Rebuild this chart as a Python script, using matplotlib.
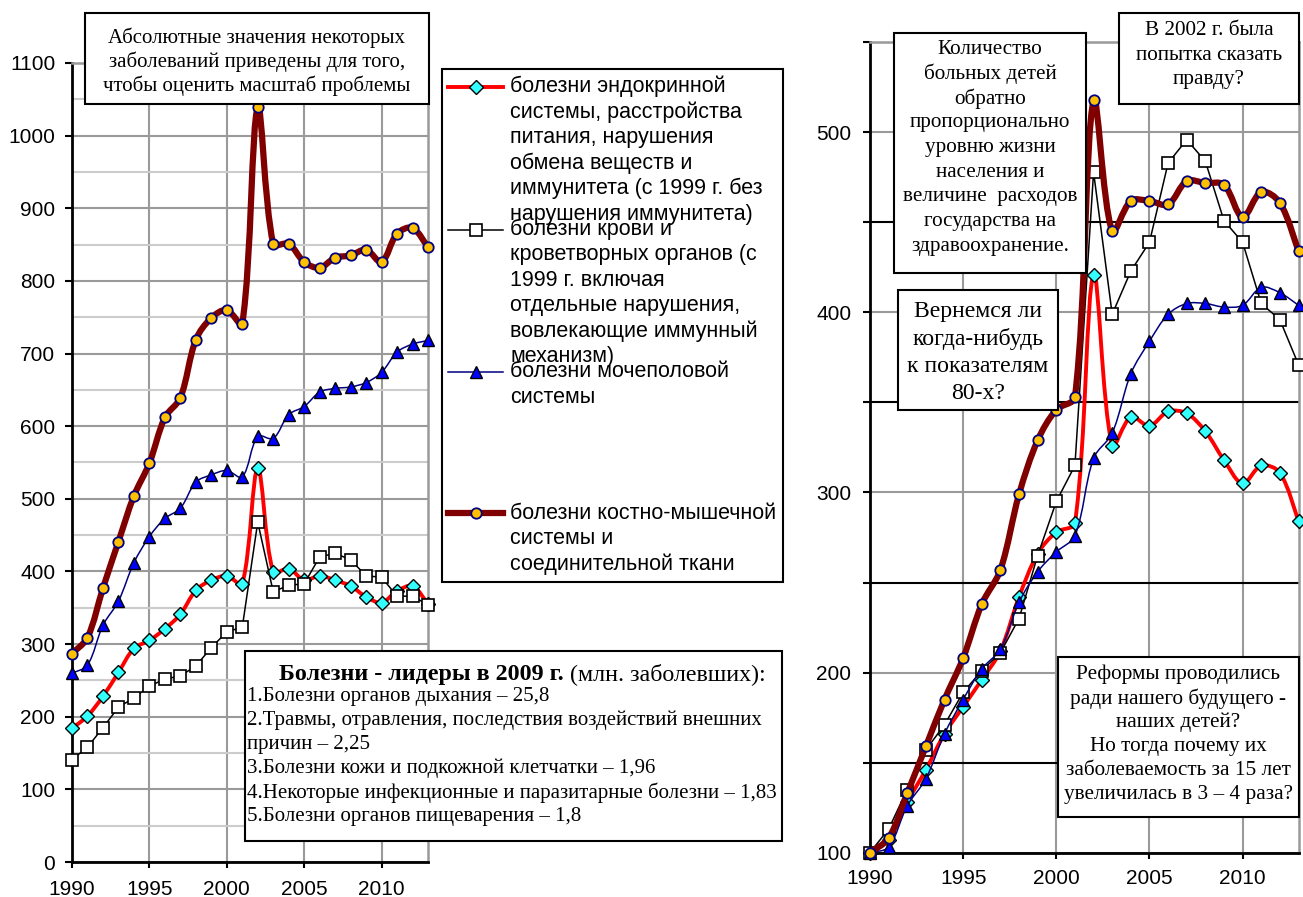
import numpy as np
import matplotlib
matplotlib.use('Agg')
import matplotlib.pyplot as plt
from matplotlib.lines import Line2D
from matplotlib.patches import Rectangle, PathPatch
from matplotlib.path import Path
from matplotlib.text import Annotation
from matplotlib.legend_handler import HandlerLine2D
from matplotlib.ticker import MultipleLocator, FixedLocator

plt.rcParams['font.family'] = ['Liberation Sans', 'DejaVu Sans']
SERIF = ['Liberation Serif', 'DejaVu Serif']

years = list(range(1990, 2014))

# left chart - absolute values
endo_abs = [184, 201, 228, 261, 294, 305, 321, 341, 374, 388, 394, 383,
            542, 399, 404, 388, 394, 388, 380, 365, 357, 373, 380, 355]
blood_abs = [141, 158, 185, 213, 226, 242, 252, 256, 270, 295, 317, 323,
             468, 372, 381, 383, 420, 425, 416, 394, 392, 366, 366, 354]
uro_abs = [260, 271, 326, 359, 412, 448, 473, 487, 523, 533, 539, 530,
           586, 583, 616, 627, 647, 652, 654, 660, 674, 702, 713, 718]
bone_abs = [287, 309, 377, 441, 504, 549, 612, 639, 719, 749, 760, 741,
            1039, 851, 851, 826, 818, 832, 835, 843, 826, 865, 873, 846]

# right chart - children, 1990 = 100
endo_idx = [100, 107, 128, 146, 166, 181, 196, 212, 242, 266, 278, 283,
            421, 326, 342, 337, 345, 344, 334, 318, 305, 315, 311, 284]
blood_idx = [100, 113, 135, 157, 171, 189, 201, 211, 230, 265, 295, 315,
             478, 399, 423, 439, 483, 496, 484, 451, 439, 405, 396, 371]
uro_idx = [100, 103, 126, 141, 166, 185, 202, 213, 239, 256, 267, 276,
           319, 333, 366, 384, 399, 405, 405, 403, 404, 414, 411, 404]
bone_idx = [100, 108, 133, 159, 185, 208, 238, 257, 299, 329, 346, 353,
            518, 445, 462, 462, 460, 473, 472, 471, 453, 467, 461, 434]

labels = [
    "болезни эндокринной\nсистемы, расстройства\nпитания, нарушения\n"
    "обмена веществ и\nиммунитета (с 1999 г. без\nнарушения иммунитета)",
    "болезни крови и\nкроветворных органов (с\n1999 г. включая\n"
    "отдельные нарушения,\nвовлекающие иммунный\nмеханизм)",
    "болезни мочеполовой\nсистемы\n\n\n\n",
    "болезни костно-мышечной\nсистемы и\nсоединительной ткани",
]

styles = [
    dict(color='#ff0000', lw=2.8, marker='D', mfc='#33ffff', mec='black', ms=7.5, mew=1),
    dict(color='black', lw=1.1, marker='s', mfc='white', mec='black', ms=8, mew=1.2),
    dict(color='#000080', lw=1.1, marker='^', mfc='#0000ff', mec='black', ms=9, mew=1),
    dict(color='#800000', lw=4.5, marker='o', mfc='#ffc000', mec='#000080', ms=7.5, mew=1.3),
]
smoothed = [True, False, True, True]  # excel "smoothed line" option

W, H = 1303, 897
LEG_SIZE = 15.5
LEG_STEP = 25 * 0.72  # line step in points


class TopHandler(HandlerLine2D):
    # put the marker next to the first line of a multi-line label
    def create_artists(self, legend, orig_handle, xdescent, ydescent,
                       width, height, fontsize, trans):
        arts = super().create_artists(legend, orig_handle, xdescent, ydescent,
                                      width, height, fontsize, trans)
        n = orig_handle.get_label().count('\n')
        shift = n * LEG_STEP / 2 + 1
        for a in arts:
            a.set_ydata(np.asarray(a.get_ydata()) + shift)
        return arts


def spline_path(ax, x, y):
    # bezier segments through the data points, control arms weighted by
    # segment length on screen (close to what excel does)
    pts = np.column_stack([x, y]).astype(float)
    scr = ax.transData.transform(pts)
    d = np.hypot(*np.diff(scr, axis=0).T)
    n = len(pts)
    verts = [tuple(pts[0])]
    codes = [Path.MOVETO]
    for i in range(n - 1):
        a = max(i - 1, 0)
        b = min(i + 2, n - 1)
        da = d[i - 1] if i > 0 else d[i]
        db = d[i + 1] if i + 2 < n else d[i]
        c1 = pts[i] + (pts[i + 1] - pts[a]) * d[i] / (3 * (da + d[i]))
        c2 = pts[i + 1] - (pts[b] - pts[i]) * d[i] / (3 * (d[i] + db))
        verts += [tuple(c1), tuple(c2), tuple(pts[i + 1])]
        codes += [Path.CURVE4] * 3
    return Path(verts, codes)


def draw_series(ax, vals, st, smooth, z):
    if smooth:
        ax.add_patch(PathPatch(spline_path(ax, years, vals), fill=False,
                               edgecolor=st['color'], lw=st['lw'],
                               joinstyle='round', capstyle='round',
                               clip_on=False, zorder=z))
    else:
        ax.plot(years, vals, color=st['color'], lw=st['lw'],
                solid_joinstyle='round', clip_on=False, zorder=z)
    ax.plot(years, vals, ls='none', marker=st['marker'], mfc=st['mfc'],
            mec=st['mec'], ms=st['ms'], mew=st['mew'], clip_on=False, zorder=z + 0.5)


fig = plt.figure(figsize=(13.03, 8.97), dpi=100)

ax1 = fig.add_axes([72 / W, 1 - 862 / H, 356 / W, 799 / H])
ax2 = fig.add_axes([870 / W, 1 - 852.5 / H, 428.5 / W, 810 / H])

# left axis
ax1.set_xlim(1990, 2013)
ax1.set_ylim(0, 1100)
ax1.xaxis.set_major_locator(MultipleLocator(5))
ax1.yaxis.set_major_locator(MultipleLocator(100))
ax1.yaxis.set_minor_locator(MultipleLocator(50))
ax1.set_axisbelow(True)
ax1.grid(True, which='major', color='#9a9a9a', lw=1.5)
ax1.grid(True, which='minor', axis='y', color='#cccccc', lw=1.5)
ax1.tick_params(which='major', labelsize=15, direction='out', width=1.5, color='black')
ax1.tick_params(axis='y', which='major', length=5, pad=7)
ax1.tick_params(axis='x', which='major', length=4, pad=9)
ax1.tick_params(axis='y', which='minor', length=0)

# right axis
ax2.set_xlim(1990, 2013)
ax2.set_ylim(100, 550)
ax2.xaxis.set_major_locator(MultipleLocator(5))
ax2.yaxis.set_major_locator(FixedLocator([100, 200, 300, 400, 500]))
ax2.yaxis.set_minor_locator(FixedLocator([150, 250, 350, 450, 550]))
ax2.set_axisbelow(True)
ax2.grid(True, which='major', color='#9a9a9a', lw=1.5)
ax2.grid(True, which='minor', axis='y', color='black', lw=1.5)
ax2.tick_params(which='both', labelsize=15, direction='out', width=1.5, color='black')
ax2.tick_params(axis='y', which='both', length=5, pad=8.5)
ax2.tick_params(axis='x', which='major', length=4, pad=8)

for ax in (ax1, ax2):
    for s in ('left', 'bottom'):
        ax.spines[s].set_color('black')
        ax.spines[s].set_linewidth(2)
    for s in ('top', 'right'):
        ax.spines[s].set_color('#9a9a9a')
        ax.spines[s].set_linewidth(1.8)

left_data = [endo_abs, blood_abs, uro_abs, bone_abs]
right_data = [endo_idx, blood_idx, uro_idx, bone_idx]
for i in range(4):
    draw_series(ax1, left_data[i], styles[i], smoothed[i], 3 + i)
    draw_series(ax2, right_data[i], styles[i], smoothed[i], 3 + i)

handles = [Line2D([], [], label=lab, **st) for st, lab in zip(styles, labels)]

leg = ax1.legend(handles, labels, loc='upper left',
                 bbox_to_anchor=(442 / W, 1 - 69 / H), bbox_transform=fig.transFigure,
                 prop={'family': ['Liberation Sans'], 'size': LEG_SIZE},
                 fancybox=False, edgecolor='black', framealpha=1,
                 borderpad=0.3, borderaxespad=0, handlelength=2.55,
                 handletextpad=0.31, labelspacing=-0.27,
                 handler_map={Line2D: TopHandler()})
leg.get_frame().set_linewidth(1.5)
leg.set_zorder(10)
for t in leg.get_texts():
    t.set_linespacing(1.267)


def box(x0, y0, x1, y1):
    fig.add_artist(Rectangle((x0 / W, 1 - y1 / H), (x1 - x0) / W, (y1 - y0) / H,
                             transform=fig.transFigure, facecolor='white',
                             edgecolor='black', lw=1.5, zorder=5))


def put_lines(x, y_first, step, lines, size, ha='center'):
    for i, line in enumerate(lines):
        fig.text(x / W, 1 - (y_first + i * step) / H, line, ha=ha,
                 va='center_baseline', family=SERIF, size=size, zorder=6)


def note(x0, y0, x1, y1, lines, size, y_first, step):
    box(x0, y0, x1, y1)
    put_lines((x0 + x1) / 2, y_first, step, lines, size)


note(85, 13, 429, 104,
     ["Абсолютные значения некоторых", "заболеваний приведены для того,",
      "чтобы оценить масштаб проблемы"], 15, 35, 24)
note(894, 33, 1086, 273,
     ["Количество", "больных детей", "обратно", "пропорционально", "уровню жизни",
      "населения и", "величине  расходов", "государства на", "здравоохранение."],
     15.2, 46.7, 24.6)
note(1119, 13, 1299, 104, ["В 2002 г. была", "попытка сказать", "правду?"],
     15.3, 27.7, 24.8)
note(898, 290, 1058, 410, ["Вернемся ли", "когда-нибудь", "к показателям", "80-х?"],
     17.1, 309.3, 27.1)
note(1058, 657, 1299, 817,
     ["Реформы проводились", "ради нашего будущего -", "наших детей?",
      "Но тогда почему их", "заболеваемость за 15 лет", "увеличилась в 3 – 4 раза?"],
     15.3, 671.7, 24.1)

# leaders box
box(245, 651, 782, 841)
t_bold = fig.text(279 / W, 1 - 671.7 / H, "Болезни - лидеры в 2009 г.", ha='left',
                  va='center_baseline', family=SERIF, size=17.3, weight='bold', zorder=6)
fig.add_artist(Annotation(" (млн. заболевших):", xy=(1, 0), xycoords=t_bold,
                          ha='left', va='bottom', family=SERIF, size=17.3, zorder=6))
put_lines(247, 694, 24, [
    "1.Болезни органов дыхания – 25,8",
    "2.Травмы, отравления, последствия воздействий внешних",
    "причин – 2,25",
    "3.Болезни кожи и подкожной клетчатки – 1,96",
    "4.Некоторые инфекционные и паразитарные болезни – 1,83",
    "5.Болезни органов пищеварения – 1,8"], 15, ha='left')

fig.savefig('out.png', dpi=100)
